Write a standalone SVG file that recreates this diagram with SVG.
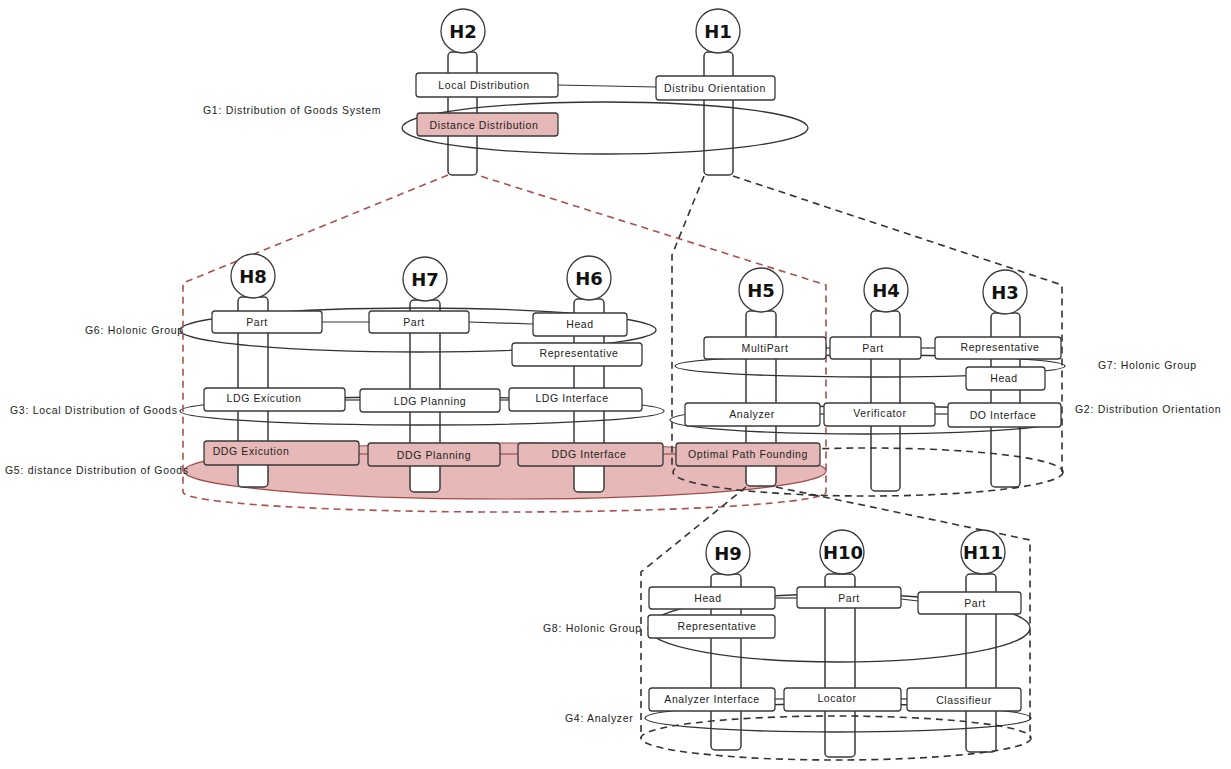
<svg xmlns="http://www.w3.org/2000/svg" width="1231" height="769" viewBox="0 0 1231 769">
<style>
.bg{fill:#ffffff}
.pil{fill:#ffffff;stroke:#3a3a3a;stroke-width:1.5}
.hc{fill:#ffffff;stroke:#3a3a3a;stroke-width:1.3}
.ht{font-family:"DejaVu Sans",Verdana,sans-serif;font-weight:bold;font-size:18px;fill:#111;text-anchor:middle}
.box{fill:#ffffff;stroke:#3a3a3a;stroke-width:1.3}
.pbox{fill:#e6b9b8;stroke:#3a3a3a;stroke-width:1.3}
.bt{font-family:"Liberation Sans",Arial,sans-serif;font-size:10.5px;letter-spacing:0.6px;fill:#222;text-anchor:middle}
.gl{font-family:"Liberation Sans",Arial,sans-serif;font-size:10.5px;letter-spacing:0.7px;fill:#222}
.ell{fill:none;stroke:#333;stroke-width:1.3}
.pell{fill:#e6b9b8;stroke:#a04a48;stroke-width:1.2}
.lnk{fill:none;stroke:#333;stroke-width:1.2}
.plnk{fill:none;stroke:#a04a48;stroke-width:1.2}
.rdash{fill:none;stroke:#a85250;stroke-width:1.6;stroke-dasharray:7,5}
.kdash{fill:none;stroke:#333;stroke-width:1.6;stroke-dasharray:7,5}
</style>
<rect class="bg" x="0" y="0" width="1231" height="769"/>

<g id="G5">
<ellipse class="pell" cx="505" cy="471" rx="321" ry="28"/>
<text class="gl" x="5" y="474">G5: distance Distribution of Goods</text>
</g>

<g id="pillars">
<rect class="pil" x="448" y="52" width="29" height="123" rx="4"/>
<rect class="pil" x="704" y="52" width="29" height="123" rx="4"/>
<rect class="pil" x="238" y="297" width="30" height="190" rx="4"/>
<rect class="pil" x="410" y="300" width="30" height="192" rx="4"/>
<rect class="pil" x="574" y="299" width="30" height="193" rx="4"/>
<rect class="pil" x="746" y="311" width="30" height="175" rx="4"/>
<rect class="pil" x="871" y="311" width="29" height="180" rx="4"/>
<rect class="pil" x="991" y="313" width="29" height="174" rx="4"/>
<rect class="pil" x="711" y="574" width="30" height="176" rx="4"/>
<rect class="pil" x="825" y="574" width="30" height="183" rx="4"/>
<rect class="pil" x="966" y="574" width="30" height="178" rx="4"/>
</g>

<g id="G1">
<ellipse class="ell" cx="605" cy="128" rx="203" ry="26"/>
<text class="gl" x="203" y="114">G1: Distribution of Goods System</text>
</g>
<g id="G6">
<ellipse class="ell" cx="418" cy="330" rx="238" ry="22"/>
<text class="gl" x="85" y="334">G6: Holonic Group</text>
</g>
<g id="G3">
<ellipse class="ell" cx="422" cy="411" rx="242" ry="14"/>
<text class="gl" x="10" y="414">G3: Local Distribution of Goods</text>
</g>
<g id="G7">
<ellipse class="ell" cx="870" cy="366" rx="195" ry="11"/>
<text class="gl" x="1098" y="369">G7: Holonic Group</text>
</g>
<g id="G2">
<ellipse class="ell" cx="866" cy="420" rx="196" ry="14"/>
<text class="gl" x="1075" y="413">G2: Distribution Orientation</text>
</g>
<g id="G8">
<ellipse class="ell" cx="839" cy="628" rx="191" ry="34"/>
<text class="gl" x="543" y="632">G8: Holonic Group</text>
</g>
<g id="G4">
<ellipse class="ell" cx="838" cy="718" rx="193" ry="14"/>
<text class="gl" x="565" y="722">G4: Analyzer</text>
</g>

<g id="connectors">
<path class="rdash" d="M448,175 L183,283 L183,492 A321.5,20 0 0 0 826,492 L826,285 L477,175"/>
<path class="kdash" d="M704,176 L672,255 L672,468"/>
<path class="kdash" d="M733,176 L1062,285 L1062,472"/>
<ellipse class="kdash" cx="868" cy="472" rx="195" ry="24"/>
<path class="kdash" d="M746,487 L641,572 L641,738"/>
<path class="kdash" d="M776,487 L1030,540 L1030,738"/>
<ellipse class="kdash" cx="836" cy="738" rx="195" ry="22"/>
<line class="lnk" x1="558" y1="85" x2="656" y2="87"/>
<line class="lnk" x1="322" y1="322" x2="369" y2="322"/>
<line class="lnk" x1="469" y1="322" x2="533" y2="324"/>
<line class="lnk" x1="345" y1="400" x2="360" y2="400"/>
<line class="lnk" x1="500" y1="400" x2="509" y2="400"/>
<line class="plnk" x1="359" y1="454" x2="368" y2="454"/>
<line class="plnk" x1="500" y1="454" x2="518" y2="454"/>
<line class="plnk" x1="663" y1="454" x2="676" y2="454"/>
<line class="lnk" x1="826" y1="348" x2="830" y2="348"/>
<line class="lnk" x1="921" y1="348" x2="935" y2="348"/>
<line class="lnk" x1="820" y1="414" x2="824" y2="414"/>
<line class="lnk" x1="935" y1="414" x2="948" y2="414"/>
<line class="lnk" x1="775" y1="598" x2="797" y2="598"/>
<line class="lnk" x1="901" y1="599" x2="918" y2="601"/>
<line class="lnk" x1="775" y1="699" x2="784" y2="699"/>
<line class="lnk" x1="901" y1="699" x2="907" y2="699"/>
</g>

<g id="H2">
<circle class="hc" cx="463" cy="31" r="22"/>
<text class="ht" x="463" y="38">H2</text>
<rect class="box" x="416" y="73" width="142" height="24" rx="3"/>
<text class="bt" x="484" y="89">Local Distribution</text>
<rect class="pbox" x="417" y="113" width="141" height="23" rx="3"/>
<text class="bt" x="484" y="129">Distance Distribution</text>
</g>
<g id="H1">
<circle class="hc" cx="718" cy="31" r="22"/>
<text class="ht" x="718" y="38">H1</text>
<rect class="box" x="656" y="76" width="119" height="24" rx="3"/>
<text class="bt" x="715" y="92">Distribu Orientation</text>
</g>
<g id="H8">
<circle class="hc" cx="253" cy="276" r="22"/>
<text class="ht" x="253" y="283">H8</text>
<rect class="box" x="212" y="311" width="110" height="22" rx="3"/>
<text class="bt" x="257" y="326">Part</text>
<rect class="box" x="204" y="388" width="141" height="23" rx="3"/>
<text class="bt" x="264" y="402">LDG Exicution</text>
<rect class="pbox" x="204" y="441" width="155" height="24" rx="3"/>
<text class="bt" x="251" y="455">DDG Exicution</text>
</g>
<g id="H7">
<circle class="hc" cx="425" cy="279" r="22"/>
<text class="ht" x="425" y="286">H7</text>
<rect class="box" x="369" y="311" width="100" height="22" rx="3"/>
<text class="bt" x="414" y="326">Part</text>
<rect class="box" x="360" y="389" width="140" height="23" rx="3"/>
<text class="bt" x="430" y="405">LDG Planning</text>
<rect class="pbox" x="368" y="443" width="132" height="23" rx="3"/>
<text class="bt" x="434" y="459">DDG Planning</text>
</g>
<g id="H6">
<circle class="hc" cx="589" cy="278" r="22"/>
<text class="ht" x="589" y="285">H6</text>
<rect class="box" x="533" y="313" width="94" height="23" rx="3"/>
<text class="bt" x="580" y="328">Head</text>
<rect class="box" x="512" y="343" width="130" height="23" rx="3"/>
<text class="bt" x="579" y="357">Representative</text>
<rect class="box" x="509" y="388" width="133" height="23" rx="3"/>
<text class="bt" x="572" y="402">LDG Interface</text>
<rect class="pbox" x="518" y="443" width="145" height="23" rx="3"/>
<text class="bt" x="589" y="458">DDG Interface</text>
</g>
<g id="H5">
<circle class="hc" cx="761" cy="290" r="22"/>
<text class="ht" x="761" y="297">H5</text>
<rect class="box" x="704" y="337" width="122" height="22" rx="3"/>
<text class="bt" x="765" y="352">MultiPart</text>
<rect class="box" x="685" y="403" width="135" height="23" rx="3"/>
<text class="bt" x="752" y="418">Analyzer</text>
<rect class="pbox" x="676" y="443" width="144" height="23" rx="3"/>
<text class="bt" x="748" y="458">Optimal Path Founding</text>
</g>
<g id="H4">
<circle class="hc" cx="886" cy="290" r="22"/>
<text class="ht" x="886" y="297">H4</text>
<rect class="box" x="830" y="337" width="91" height="22" rx="3"/>
<text class="bt" x="873" y="352">Part</text>
<rect class="box" x="824" y="403" width="111" height="23" rx="3"/>
<text class="bt" x="880" y="417">Verificator</text>
</g>
<g id="H3">
<circle class="hc" cx="1005" cy="292" r="22"/>
<text class="ht" x="1005" y="299">H3</text>
<rect class="box" x="935" y="337" width="126" height="22" rx="3"/>
<text class="bt" x="1000" y="351">Representative</text>
<rect class="box" x="966" y="367" width="79" height="23" rx="3"/>
<text class="bt" x="1004" y="382">Head</text>
<rect class="box" x="948" y="403" width="113" height="24" rx="3"/>
<text class="bt" x="1003" y="419">DO Interface</text>
</g>
<g id="H9">
<circle class="hc" cx="728" cy="553" r="22"/>
<text class="ht" x="728" y="560">H9</text>
<rect class="box" x="649" y="587" width="126" height="22" rx="3"/>
<text class="bt" x="708" y="602">Head</text>
<rect class="box" x="648" y="615" width="127" height="23" rx="3"/>
<text class="bt" x="717" y="630">Representative</text>
<rect class="box" x="649" y="688" width="126" height="23" rx="3"/>
<text class="bt" x="712" y="703">Analyzer Interface</text>
</g>
<g id="H10">
<circle class="hc" cx="842" cy="552" r="22"/>
<text class="ht" x="843" y="559">H10</text>
<rect class="box" x="797" y="587" width="104" height="21" rx="3"/>
<text class="bt" x="849" y="602">Part</text>
<rect class="box" x="784" y="688" width="117" height="23" rx="3"/>
<text class="bt" x="837" y="702">Locator</text>
</g>
<g id="H11">
<circle class="hc" cx="983" cy="552" r="22"/>
<text class="ht" x="983" y="559">H11</text>
<rect class="box" x="918" y="592" width="103" height="22" rx="3"/>
<text class="bt" x="975" y="607">Part</text>
<rect class="box" x="907" y="688" width="114" height="23" rx="3"/>
<text class="bt" x="964" y="704">Classifieur</text>
</g>
</svg>
